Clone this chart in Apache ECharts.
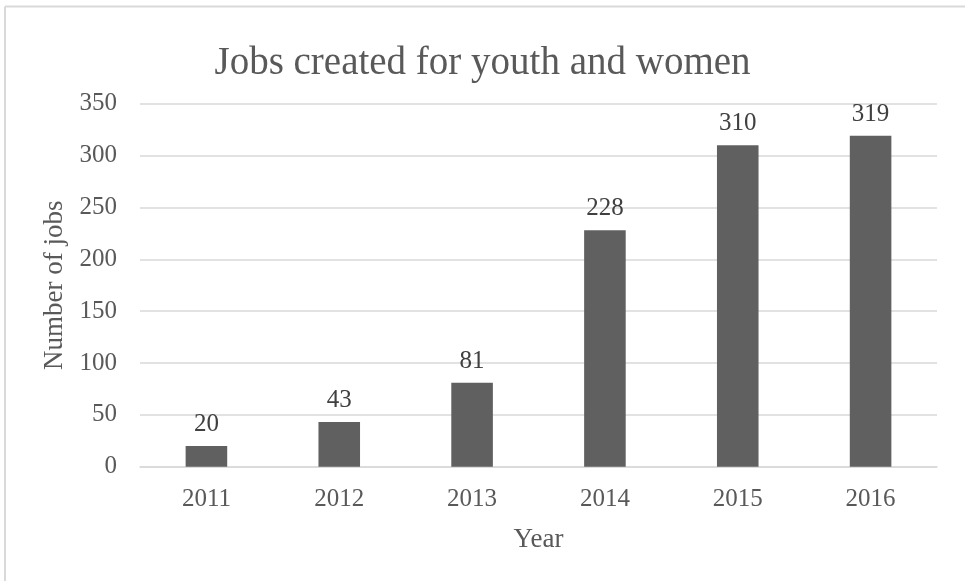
<!DOCTYPE html>
<html>
<head>
<meta charset="utf-8">
<script src="https://cdn.jsdelivr.net/npm/echarts@6/dist/echarts.min.js"></script>
<style>
  html, body { margin: 0; padding: 0; background: #ffffff; }
  #chart { width: 965px; height: 581px; }
</style>
</head>
<body>
<div id="chart"></div>
<script>
// Yearly totals of jobs created for youth and women
const years = ['2011', '2012', '2013', '2014', '2015', '2016'];
const jobs = [20, 43, 81, 228, 310, 319];
const yTicks = { min: 0, max: 350, step: 50 };

const FONT = '"Liberation Serif", "DejaVu Serif", serif';

const chart = echarts.init(document.getElementById('chart'), null, { renderer: 'canvas' });

chart.setOption({
  backgroundColor: '#ffffff',
  animation: false,
  title: {
    text: 'Jobs created for youth and women',
    left: 'center',
    top: 39,
    textStyle: { fontFamily: FONT, fontSize: 39, fontWeight: 'normal', color: '#595959' }
  },
  grid: { left: 140, right: 28, top: 103.7, bottom: 114.3, containLabel: false },
  xAxis: {
    type: 'category',
    data: years,
    name: 'Year',
    nameLocation: 'middle',
    nameGap: 60,
    nameTextStyle: { fontFamily: FONT, fontSize: 27, color: '#595959' },
    axisLine: { show: true, lineStyle: { color: '#d9d9d9', width: 1.5 } },
    axisTick: { show: false },
    axisLabel: { fontFamily: FONT, fontSize: 25, color: '#595959', margin: 20 }
  },
  yAxis: {
    type: 'value',
    min: yTicks.min,
    max: yTicks.max,
    interval: yTicks.step,
    name: 'Number of jobs',
    nameLocation: 'middle',
    nameGap: 70,
    nameTextStyle: { fontFamily: FONT, fontSize: 27, color: '#595959' },
    axisLine: { show: false },
    axisTick: { show: false },
    splitLine: { lineStyle: { color: '#d9d9d9', width: 1.5 } },
    axisLabel: { fontFamily: FONT, fontSize: 25, color: '#595959', margin: 23 }
  },
  series: [{
    type: 'bar',
    data: jobs,
    barCategoryGap: '68.7%',
    itemStyle: { color: '#606060' },
    label: {
      show: true,
      position: 'top',
      distance: 9,
      fontFamily: FONT,
      fontSize: 25,
      color: '#404040'
    }
  }],
  graphic: [
    { type: 'line', shape: { x1: 5, y1: 6.5, x2: 965, y2: 6.5 }, style: { stroke: '#d9d9d9', lineWidth: 2 } },
    { type: 'line', shape: { x1: 5, y1: 6.5, x2: 5, y2: 581 }, style: { stroke: '#d9d9d9', lineWidth: 2 } }
  ]
});
</script>
</body>
</html>
